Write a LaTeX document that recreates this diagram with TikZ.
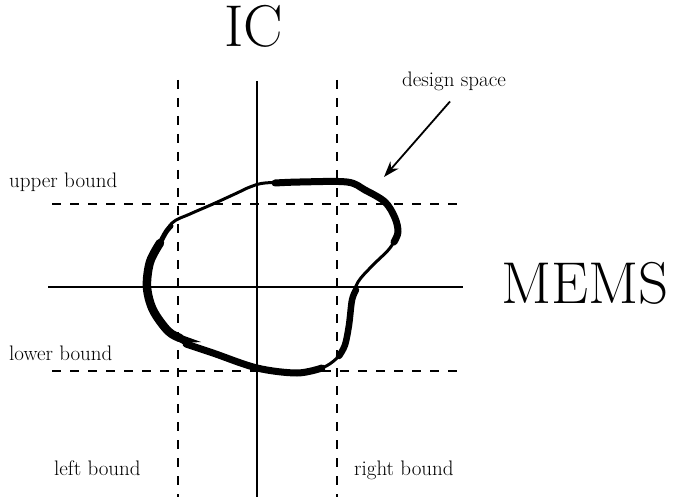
\documentclass[tikz,border=0pt]{standalone}
\usetikzlibrary{arrows.meta}
\begin{document}
\begin{tikzpicture}[x=1pt,y=-1pt,
  axis/.style={line width=1.3pt},
  bound/.style={line width=1.3pt, dash pattern=on 9pt off 9pt},
  lbl/.style={inner sep=0pt, font=\fontsize{21}{23}\selectfont},
  big/.style={inner sep=0pt, font=\fontsize{59}{62}\selectfont},
  blob/.style={line cap=round, line join=round}]
\useasboundingbox (0,0) rectangle (685,497);
% axes
\coordinate (vt) at (257,81);  \coordinate (vb) at (257,497);
\coordinate (hl) at (48,287);  \coordinate (hr) at (463,287);
\draw[axis] (vt) -- (vb);
\draw[axis] (hl) -- (hr);
% bounds
\coordinate (lt) at (178,80);  \coordinate (lb) at (178,497);
\coordinate (rt) at (337,80);  \coordinate (rb) at (337,497);
\coordinate (ul) at (52,204);  \coordinate (ur) at (463,204);
\coordinate (dl) at (52,371);  \coordinate (dr) at (463,371);
\draw[bound] (lt) -- (lb);
\draw[bound] (rt) -- (rb);
\draw[bound] (ul) -- (ur);
\draw[bound] (dl) -- (dr);
% texts
\node[big, anchor=base] (ic) at (254,47) {IC};
\node[big, anchor=base west] (mems) at (501,303) {MEMS};
\node[lbl, anchor=base west] (ub) at (9,188) {upper bound};
\node[lbl, anchor=base west] (lob) at (9,360) {lower bound};
\node[lbl, anchor=base west] (leb) at (54,475) {left bound};
\node[lbl, anchor=base west] (rib) at (354,475) {right bound};
\node[lbl, anchor=base] (ds) at (454,87) {design space};
% design space blob
\draw[blob, line width=3pt] plot[smooth cycle, tension=0.55] coordinates {
  (265,183) (300,182) (347,182) (365,190) (385,202) (395,218) (398,232)
  (390,248) (372,266) (358,282) (352,300) (349,325) (345,345) (337,358)
  (322,368) (297,373) (257,368) (213,353) (184,343) (168,331)
  (153,310) (147,287) (150,262) (160,243) (172,223) (190,214) (213,204)
  (237,193) (250,187)};
\draw[blob, line width=7pt] plot[smooth, tension=0.55] coordinates {
  (275,183) (300,182) (347,182) (365,190) (385,202) (395,218) (398,232) (394,242)};
\draw[blob, line width=6.5pt] plot[smooth, tension=0.55] coordinates {
  (356,290) (352,300) (349,325) (345,345) (339,356)};
\draw[blob, line width=7pt] plot[smooth, tension=0.55] coordinates {
  (322,368) (297,373) (257,368) (213,353) (186,344)};
\draw[blob, line width=8.5pt] plot[smooth, tension=0.55] coordinates {
  (180,338) (168,331) (153,310) (147,287) (150,262) (160,243)};
\draw[blob, line width=5pt] plot[smooth, tension=0.55] coordinates {
  (160,243) (166,232) (171,226)};
\fill (176,333) -- (201,342) -- (184,343) -- cycle;
% arrow
\coordinate (ah) at (384,177);
\draw[line width=1.8pt, -{Stealth[length=16pt, width=11pt]}] (ds.south) ++(-4,10) -- (ah);
\end{tikzpicture}
\end{document}
